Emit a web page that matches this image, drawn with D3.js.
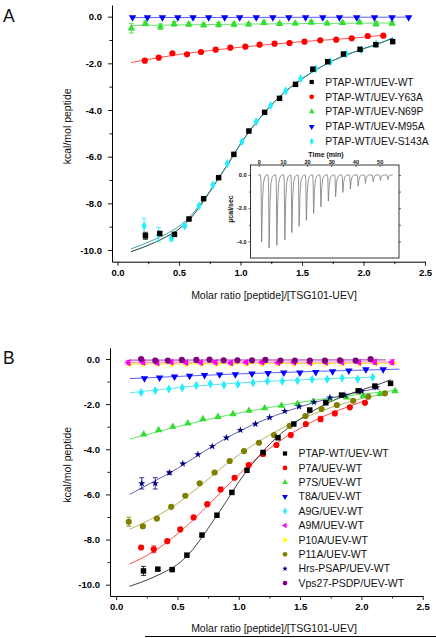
<!DOCTYPE html>
<html><head><meta charset="utf-8">
<script src="https://cdn.jsdelivr.net/npm/d3@7"></script>
<style>html,body{margin:0;padding:0;background:#fff}svg{display:block}text{font-family:"Liberation Sans",Arial,Helvetica,sans-serif}</style>
</head><body><svg id="c" width="436" height="638"></svg>
<script>
// ---------------- DATA ----------------
const xMajorTicks = [0, 0.5, 1.0, 1.5, 2.0, 2.5];
const xMinorTicks = [0.25, 0.75, 1.25, 1.75, 2.25];
const yMajorTicks = [0, -2, -4, -6, -8, -10];
const yMinorTicks = [-1, -3, -5, -7, -9];
const xTitle = "Molar ratio [peptide]/[TSG101-UEV]";
const yTitle = "kcal/mol peptide";

// Panel A
const A_names = ["PTAP-WT/UEV-WT", "PTAP-WT/UEV-Y63A", "PTAP-WT/UEV-N69P", "PTAP-WT/UEV-M95A", "PTAP-WT/UEV-S143A"];
const A_WT = [[0.227,-9.39],[0.343,-9.29],[0.463,-9.33],[0.581,-8.67],[0.70,-7.80],[0.822,-6.90],[0.946,-5.90],[1.068,-4.90],[1.196,-4.10],[1.317,-3.50],[1.447,-2.90],[1.588,-2.25],[1.709,-1.93],[1.837,-1.60],[1.972,-1.40],[2.10,-1.20],[2.237,-1.07]];
const A_WT_err = [0.15,0.08,0.06,0,0,0,0,0,0,0,0,0,0,0,0,0,0];
const A_Y63A = [[0.222,-1.886],[0.335,-1.757],[0.446,-1.569],[0.565,-1.611],[0.679,-1.513],[0.798,-1.414],[0.917,-1.329],[1.039,-1.286],[1.155,-1.20],[1.277,-1.157],[1.398,-1.127],[1.52,-1.071],[1.648,-1.011],[1.778,-0.986],[1.904,-0.926],[2.034,-0.827],[2.161,-0.814]];
const A_N69P = [[0.113,-0.50],[0.227,-0.29],[0.349,-0.43],[0.46,-0.31],[0.579,-0.33],[0.70,-0.36],[0.822,-0.34],[0.947,-0.33],[1.066,-0.33],[1.19,-0.26],[1.317,-0.31],[1.445,-0.29],[1.575,-0.24],[1.704,-0.29],[1.83,-0.26],[1.967,-0.24],[2.102,-0.31],[2.232,-0.29]];
const A_N69P_err = [0.2,0.1,0.12,0.1,0.08,0.08,0.1,0.1,0.06,0.08,0.06,0.06,0.08,0.06,0.06,0.06,0.1,0.08];
const A_M95A = [[0.122,-0.03],[0.243,-0.03],[0.365,-0.03],[0.49,-0.03],[0.614,-0.03],[0.741,-0.03],[0.871,-0.03],[0.993,-0.03],[1.128,-0.03],[1.263,-0.03],[1.393,-0.03],[1.529,-0.03],[1.669,-0.03],[1.804,-0.03],[1.945,-0.03],[2.089,-0.03],[2.232,-0.03],[2.367,-0.03]];
const A_S143A = [[0.216,-8.97],[0.335,-9.33],[0.438,-9.50],[0.546,-8.97],[0.662,-8.11],[0.776,-7.21],[0.893,-6.29],[1.011,-5.36],[1.128,-4.50],[1.245,-3.81],[1.367,-3.18],[1.489,-2.66],[1.61,-2.24],[1.731,-1.93],[1.859,-1.60],[1.981,-1.43],[2.102,-1.18]];
const A_S143A_err = [0.32,0.3,0.1,0.06,0,0,0,0,0,0,0,0,0,0,0,0,0];
// fitted curves
const A_WT_fit = [[0.11,-10.07],[0.2,-9.9],[0.3,-9.68],[0.4,-9.42],[0.5,-9.1],[0.6,-8.6],[0.7,-7.9],[0.8,-7.1],[0.9,-6.3],[1.0,-5.45],[1.1,-4.72],[1.2,-4.08],[1.3,-3.52],[1.4,-3.06],[1.5,-2.66],[1.6,-2.32],[1.7,-2.02],[1.8,-1.77],[1.9,-1.56],[2.0,-1.37],[2.1,-1.2],[2.24,-0.92]];
const A_S143A_fit = [[0.11,-9.95],[0.2,-9.77],[0.3,-9.55],[0.4,-9.3],[0.5,-8.98],[0.6,-8.5],[0.7,-7.85],[0.8,-7.08],[0.9,-6.28],[1.0,-5.45],[1.1,-4.72],[1.2,-4.08],[1.3,-3.52],[1.4,-3.06],[1.5,-2.66],[1.6,-2.32],[1.7,-2.02],[1.8,-1.77],[1.9,-1.56],[2.0,-1.37],[2.1,-1.2],[2.24,-0.9]];
const A_Y63A_fit = [[0.11,-1.96],[0.5,-1.62],[1.0,-1.31],[1.5,-1.07],[2.0,-0.88],[2.18,-0.78]];
const A_N69P_fit = [[0.11,-0.38],[1.0,-0.32],[2.24,-0.27]];
const A_M95A_fit = [[0.11,-0.04],[2.38,-0.02]];

// inset (raw ITC trace): injection times (min) and peak heights (µcal/sec)
const insetTimeTicks = [0, 10, 20, 30, 40, 50];
const insetYTicks = [0, -2, -4];
const insetPeakTimes = [1.0, 4.1, 7.3, 10.6, 13.5, 16.5, 19.5, 22.5, 25.5, 28.6, 31.6, 34.6, 37.7, 40.9, 43.9, 47.1, 50.1, 53.2];
const insetPeakHeights = [-4.04, -4.40, -4.24, -3.90, -3.47, -3.09, -2.73, -2.32, -1.92, -1.58, -1.31, -1.05, -0.85, -0.67, -0.51, -0.40, -0.33, -0.28];
const insetTimeSpan = [-0.4, 55.4];

// Panel B
const B_names = ["PTAP-WT/UEV-WT","P7A/UEV-WT","P7S/UEV-WT","T8A/UEV-WT","A9G/UEV-WT","A9M/UEV-WT","P10A/UEV-WT","P11A/UEV-WT","Hrs-PSAP/UEV-WT","Vps27-PSDP/UEV-WT"];
const B_WT = [[0.223,-9.39],[0.34,-9.31],[0.457,-9.33],[0.577,-8.69],[0.70,-7.80],[0.822,-6.92],[0.944,-5.91],[1.067,-4.93],[1.198,-4.14],[1.32,-3.49],[1.449,-2.88],[1.579,-2.26],[1.71,-1.94],[1.838,-1.60],[1.974,-1.41],[2.11,-1.20],[2.238,-1.08]];
const B_WT_err = [0.2,0.06,0.06,0,0,0,0,0,0,0,0,0,0,0,0,0,0];
const B_P7A = [[0.204,-8.35],[0.307,-8.43],[0.417,-8.07],[0.523,-7.55],[0.632,-7.02],[0.743,-6.43],[0.852,-5.78],[0.966,-5.26],[1.081,-4.70],[1.198,-4.21],[1.307,-3.81],[1.424,-3.37],[1.547,-2.88],[1.667,-2.66],[1.784,-2.41],[1.906,-2.14],[2.029,-1.94]];
const B_P7A_err = [0.06,0.15,0.06,0,0,0,0,0,0,0.08,0,0,0,0.12,0,0,0];
const B_P7S = [[0.225,-3.34],[0.346,-3.15],[0.462,-3.0],[0.585,-2.85],[0.708,-2.66],[0.83,-2.56],[0.953,-2.44],[1.083,-2.29],[1.212,-2.18],[1.348,-2.07],[1.479,-1.99],[1.606,-1.89],[1.743,-1.77],[1.879,-1.70],[2.015,-1.63],[2.151,-1.55],[2.274,-1.42]];
const B_T8A = [[0.231,-0.86],[0.354,-0.83],[0.476,-0.78],[0.599,-0.75],[0.721,-0.72],[0.844,-0.69],[0.972,-0.68],[1.108,-0.65],[1.239,-0.63],[1.367,-0.61],[1.498,-0.61],[1.628,-0.58],[1.765,-0.55],[1.898,-0.52],[2.037,-0.46],[2.178,-0.46]];
const B_A9G = [[0.204,-1.48],[0.319,-1.40],[0.43,-1.33],[0.539,-1.27],[0.654,-1.17],[0.768,-1.10],[0.879,-1.15],[0.993,-1.12],[1.116,-1.05],[1.234,-0.98],[1.356,-0.99],[1.479,-0.96],[1.598,-0.90],[1.721,-0.90],[1.843,-0.84],[1.969,-0.89],[2.092,-0.81]];
const B_A9M = [[0.10,-0.16],[0.22,-0.15],[0.335,-0.17],[0.45,-0.14],[0.57,-0.16],[0.69,-0.16],[0.81,-0.15],[0.935,-0.17],[1.06,-0.15],[1.19,-0.14],[1.32,-0.16],[1.45,-0.15],[1.58,-0.16],[1.71,-0.15],[1.84,-0.14],[1.98,-0.15],[2.11,-0.14],[2.25,-0.14]];
const B_A9M_err = [0.1,0.08,0.08,0.06,0.06,0.06,0.08,0.08,0.06,0.08,0.06,0.06,0.06,0.06,0.06,0.06,0.1,0.1];
const B_P10A = [[0.109,-0.22],[0.226,-0.21],[0.34,-0.22],[0.458,-0.22],[0.577,-0.22],[0.70,-0.22],[0.822,-0.22],[0.944,-0.22],[1.067,-0.21],[1.198,-0.21],[1.326,-0.20],[1.456,-0.20],[1.593,-0.20],[1.716,-0.20],[1.851,-0.20],[1.988,-0.20],[2.124,-0.19],[2.26,-0.17]];
const B_P11A = [[0.103,-7.21],[0.218,-7.41],[0.332,-7.07],[0.449,-6.55],[0.564,-6.06],[0.681,-5.51],[0.803,-5.03],[0.926,-4.52],[1.043,-4.08],[1.165,-3.71],[1.288,-3.37],[1.416,-2.96],[1.544,-2.53],[1.675,-2.22],[1.80,-2.04],[1.933,-1.85],[2.056,-1.67],[2.192,-1.52]];
const B_P11A_err = [0.2,0.08,0.06,0,0,0,0,0,0,0,0,0,0,0,0,0,0,0];
const B_Hrs = [[0.209,-5.51],[0.319,-5.51],[0.435,-5.04],[0.544,-4.64],[0.667,-4.23],[0.784,-3.87],[0.899,-3.49],[1.013,-3.15],[1.136,-2.88],[1.252,-2.59],[1.375,-2.31],[1.492,-2.11],[1.614,-1.91],[1.743,-1.71],[1.865,-1.60],[2.0,-1.43],[2.124,-1.26]];
const B_Hrs_err = [0.25,0.25,0.06,0,0,0,0,0,0,0,0,0,0,0,0,0,0];
const B_Vps27 = [[0.204,0.0],[0.319,-0.07],[0.422,-0.07],[0.536,-0.04],[0.654,-0.04],[0.762,-0.03],[0.877,-0.06],[0.989,-0.06],[1.108,-0.06],[1.217,-0.04],[1.34,-0.07],[1.457,-0.07],[1.58,-0.07],[1.702,-0.07],[1.825,-0.06],[1.953,-0.07],[2.075,0.0]];
const B_WT_fit = A_WT_fit;
const B_P7A_fit = [[0.11,-9.08],[0.3,-8.55],[0.5,-7.75],[0.7,-6.75],[0.9,-5.65],[1.1,-4.62],[1.3,-3.77],[1.5,-3.07],[1.7,-2.52],[1.9,-2.1],[2.05,-1.8]];
const B_P7S_fit = [[0.11,-3.55],[0.5,-3.0],[0.9,-2.5],[1.3,-2.1],[1.7,-1.76],[2.1,-1.5],[2.3,-1.38]];
const B_T8A_fit = [[0.11,-0.87],[1.0,-0.66],[2.31,-0.45]];
const B_A9G_fit = [[0.11,-1.5],[0.6,-1.22],[1.1,-1.03],[1.6,-0.9],[2.1,-0.8]];
const B_A9M_fit = [[0.1,-0.15],[2.28,-0.13]];
const B_P10A_fit = [[0.1,-0.22],[2.28,-0.19]];
const B_P11A_fit = [[0.11,-7.55],[0.3,-7.05],[0.5,-6.4],[0.7,-5.55],[0.9,-4.65],[1.1,-3.87],[1.3,-3.22],[1.5,-2.68],[1.7,-2.25],[1.9,-1.9],[2.15,-1.58]];
const B_Hrs_fit = [[0.11,-6.0],[0.3,-5.45],[0.5,-4.85],[0.7,-4.15],[0.9,-3.5],[1.1,-2.95],[1.3,-2.5],[1.5,-2.12],[1.7,-1.8],[1.9,-1.55],[2.13,-1.3]];
const B_Vps27_fit = [[0.11,-0.05],[2.2,-0.04]];

// ---------------- DRAW ----------------
const svg = d3.select("#c");
svg.append("rect").attr("width",436).attr("height",638).attr("fill","#fff");

const sym = {
  square: {t: d3.symbolSquare, r: 0},
  circle: {t: d3.symbolCircle, r: 0},
  up: {t: d3.symbolTriangle, r: 0},
  down: {t: d3.symbolTriangle, r: 180},
  diamond: {t: d3.symbolDiamond, r: 0},
  left: {t: d3.symbolTriangle, r: -90},
  right: {t: d3.symbolTriangle, r: 90},
  star: {t: d3.symbolStar, r: 0}
};
const symSize = {square: 30, circle: 30, up: 24, down: 24, diamond: 24, left: 22, right: 22, star: 17};

function axes(g, x, y) {
  const [x0, x1] = x.range(), [y0, y1] = y.range();
  const gxMin = g.append("g").attr("transform", `translate(0,${y0})`)
    .call(d3.axisBottom(x).tickValues(xMinorTicks).tickSize(2.5).tickSizeOuter(0).tickFormat(""));
  gxMin.select(".domain").remove();
  const gx = g.append("g").attr("transform", `translate(0,${y0})`)
    .call(d3.axisBottom(x).tickValues(xMajorTicks).tickSize(4).tickSizeOuter(0).tickPadding(3.5).tickFormat(d => d.toFixed(1)));
  const gyMin = g.append("g").attr("transform", `translate(${x0},0)`)
    .call(d3.axisLeft(y).tickValues(yMinorTicks).tickSize(2.5).tickSizeOuter(0).tickFormat(""));
  gyMin.select(".domain").remove();
  const gy = g.append("g").attr("transform", `translate(${x0},0)`)
    .call(d3.axisLeft(y).tickValues(yMajorTicks).tickSize(4).tickSizeOuter(0).tickPadding(6).tickFormat(d => d.toFixed(1)));
  [gx, gy].forEach(a => a.selectAll("text").attr("font-size", 9.5).attr("font-weight", "bold").attr("fill", "#000")
    .attr("font-family", '"Liberation Sans",Arial,sans-serif'));
  g.selectAll(".domain").attr("stroke", "#000").attr("stroke-width", 1);
  g.selectAll(".tick line").attr("stroke", "#000").attr("stroke-width", 0.9);
}

function drawSeries(g, x, y, pts, errs, shape, color, stroke) {
  if (errs) {
    const eg = g.append("g").attr("stroke", color).attr("stroke-width", 0.8);
    pts.forEach((p, i) => {
      const e = errs[i];
      if (!e) return;
      const cx = x(p[0]);
      eg.append("line").attr("x1", cx).attr("x2", cx).attr("y1", y(p[1] + e)).attr("y2", y(p[1] - e));
      eg.append("line").attr("x1", cx - 2.5).attr("x2", cx + 2.5).attr("y1", y(p[1] + e)).attr("y2", y(p[1] + e));
      eg.append("line").attr("x1", cx - 2.5).attr("x2", cx + 2.5).attr("y1", y(p[1] - e)).attr("y2", y(p[1] - e));
    });
  }
  const s = sym[shape];
  g.append("g").selectAll("path").data(pts).join("path")
    .attr("d", d3.symbol().type(s.t).size(symSize[shape]))
    .attr("transform", d => `translate(${x(d[0])},${y(d[1])}) rotate(${s.r})`)
    .attr("fill", color).attr("stroke", stroke || "none").attr("stroke-width", 0.4);
}

function drawFit(g, x, y, pts, color, w) {
  g.append("path").datum(pts)
    .attr("d", d3.line().x(d => x(d[0])).y(d => y(d[1])).curve(d3.curveMonotoneX))
    .attr("fill", "none").attr("stroke", color).attr("stroke-width", w || 0.8);
}

function legend(g, x0, y0, dy, names, shapes, colors, fs) {
  names.forEach((n, i) => {
    const s = sym[shapes[i]];
    g.append("path").attr("d", d3.symbol().type(s.t).size(symSize[shapes[i]] * 0.6))
      .attr("transform", `translate(${x0},${y0 + i * dy}) rotate(${s.r})`).attr("fill", colors[i]);
    g.append("text").attr("x", x0 + 13.5).attr("y", y0 + i * dy).attr("dy", "0.36em")
      .attr("font-size", fs).attr("fill", "#111").text(n);
  });
}

function titles(g, x, y, titleY) {
  const [x0, x1] = x.range(), [y0, y1] = y.range();
  g.append("text").attr("x", 274).attr("y", titleY).attr("dy", "0.35em").attr("text-anchor", "middle")
    .attr("font-size", 10.5).attr("fill", "#111").text(xTitle);
  g.append("text").attr("transform", `translate(67,${(y0 + y1) / 2 - 7}) rotate(-90)`).attr("dy", "0.35em")
    .attr("text-anchor", "middle").attr("font-size", 10.5).attr("fill", "#111").text(yTitle);
}

// ----- Panel A -----
const gA = svg.append("g");
const xA = d3.scaleLinear().domain([-0.045, 2.5]).range([112, 425]);
const yA = d3.scaleLinear().domain([-10.5, 0.5]).range([261.7, 5]);
gA.append("text").attr("x", 3).attr("y", 22).attr("font-size", 17.5).attr("fill", "#111").text("A");

drawFit(gA, xA, yA, A_M95A_fit, "#3333ff");
drawFit(gA, xA, yA, A_N69P_fit, "#44dd44");
drawFit(gA, xA, yA, A_Y63A_fit, "#ff2020");
drawFit(gA, xA, yA, A_WT_fit, "#0a2a2a", 0.9);
drawFit(gA, xA, yA, A_S143A_fit, "#2a9a9a", 0.9);
drawSeries(gA, xA, yA, A_N69P, A_N69P_err, "up", "#33dd33");
drawSeries(gA, xA, yA, A_M95A, null, "down", "#0000ff");
drawSeries(gA, xA, yA, A_Y63A, null, "circle", "#ff0000");
drawSeries(gA, xA, yA, A_S143A, A_S143A_err, "diamond", "#22eeff");
drawSeries(gA, xA, yA, A_WT, A_WT_err, "square", "#000000");
axes(gA, xA, yA);
titles(gA, xA, yA, 295.5);
legend(gA, 311.7, 82, 14.85, A_names, ["square","circle","up","down","diamond"],
  ["#000","#ff0000","#33dd33","#0000ff","#22eeff"], 10.3);

// inset
const gI = svg.append("g");
const xI = d3.scaleLinear().domain([-3.4, 58.0]).range([250.5, 399]);
const yI = d3.scaleLinear().domain([-5.0, 0.6]).range([258, 165]);
gI.append("rect").attr("x", 250.5).attr("y", 165).attr("width", 399 - 250.5).attr("height", 93)
  .attr("fill", "#fff").attr("stroke", "#222").attr("stroke-width", 0.9);
const trace = [[insetTimeSpan[0], 0]];
insetPeakTimes.forEach((t, i) => {
  const h = insetPeakHeights[i];
  trace.push([t - 0.25, 0], [t - 0.05, h * 0.1], [t + 0.2, h], [t + 0.55, h * 0.4], [t + 0.95, h * 0.12], [t + 1.5, h * 0.03], [t + 2.2, 0]);
});
trace.push([insetTimeSpan[1], 0]);
gI.append("path").datum(trace).attr("d", d3.line().x(d => xI(d[0])).y(d => yI(d[1])))
  .attr("fill", "none").attr("stroke", "#7a7a7a").attr("stroke-width", 0.8).attr("stroke-linejoin", "round");
const gIt = gI.append("g").attr("transform", "translate(0,165)")
  .call(d3.axisTop(xI).tickValues(insetTimeTicks).tickSize(-2).tickSizeOuter(0).tickPadding(1.2).tickFormat(d3.format("d")));
gIt.select(".domain").remove();
const gIl = gI.append("g").attr("transform", "translate(250.5,0)")
  .call(d3.axisLeft(yI).tickValues(insetYTicks).tickSize(2).tickSizeOuter(0).tickPadding(2).tickFormat(d => d.toFixed(1)));
gIl.select(".domain").remove();
const gImin = gI.append("g").attr("transform", "translate(250.5,0)")
  .call(d3.axisLeft(yI).tickValues([-1, -3]).tickSize(1.5).tickSizeOuter(0).tickFormat(""));
gImin.select(".domain").remove();
const gIr = gI.append("g").attr("transform", "translate(399,0)")
  .call(d3.axisRight(yI).tickValues([0, -1, -2, -3, -4]).tickSize(2).tickSizeOuter(0).tickFormat(""));
gIr.select(".domain").remove();
gI.selectAll(".tick line").attr("stroke", "#222").attr("stroke-width", 0.7);
gI.selectAll(".tick text").attr("font-size", 5.6).attr("font-weight", "bold").attr("fill", "#111")
  .attr("font-family", '"Liberation Sans",Arial,sans-serif');
gI.append("text").attr("x", 326).attr("y", 154.5).attr("dy", "0.35em").attr("text-anchor", "middle")
  .attr("font-size", 7).attr("font-weight", "bold").attr("fill", "#111").text("Time (min)");
gI.append("text").attr("transform", "translate(231,209) rotate(-90)").attr("dy", "0.35em").attr("text-anchor", "middle")
  .attr("font-size", 7).attr("font-weight", "bold").attr("fill", "#111").text("µcal/sec");

// ----- Panel B -----
const gB = svg.append("g");
const xB = d3.scaleLinear().domain([-0.05, 2.5]).range([110, 422.7]);
const yB = d3.scaleLinear().domain([-10.5, 0.5]).range([596, 347.7]);
gB.append("text").attr("x", 3).attr("y", 363.5).attr("font-size", 17.5).attr("fill", "#111").text("B");

drawFit(gB, xB, yB, B_Vps27_fit, "#800080");
drawFit(gB, xB, yB, B_P10A_fit, "#e8d800");
drawFit(gB, xB, yB, B_A9M_fit, "#ff55cc");
drawFit(gB, xB, yB, B_T8A_fit, "#3333ff");
drawFit(gB, xB, yB, B_A9G_fit, "#33dddd");
drawFit(gB, xB, yB, B_P7S_fit, "#33dd33");
drawFit(gB, xB, yB, B_Hrs_fit, "#3a3a9a");
drawFit(gB, xB, yB, B_P11A_fit, "#a0a040");
drawFit(gB, xB, yB, B_P7A_fit, "#ff2020");
drawFit(gB, xB, yB, B_WT_fit, "#111111");

drawSeries(gB, xB, yB, B_P10A, null, "right", "#ffff00");
drawSeries(gB, xB, yB, B_A9M, B_A9M_err, "left", "#ff00ff");
drawSeries(gB, xB, yB, B_Vps27, null, "circle", "#800080");
drawSeries(gB, xB, yB, B_T8A, null, "down", "#0000ff");
drawSeries(gB, xB, yB, B_A9G, null, "diamond", "#22eeff");
drawSeries(gB, xB, yB, B_P7S, null, "up", "#33dd33");
drawSeries(gB, xB, yB, B_Hrs, B_Hrs_err, "star", "#000080");
drawSeries(gB, xB, yB, B_P11A, B_P11A_err, "circle", "#808000");
drawSeries(gB, xB, yB, B_P7A, B_P7A_err, "circle", "#ff0000");
drawSeries(gB, xB, yB, B_WT, B_WT_err, "square", "#000000");
axes(gB, xB, yB);
titles(gB, xB, yB, 628.3);
legend(gB, 285, 453.5, 14.4, B_names,
  ["square","circle","up","down","diamond","left","right","circle","star","circle"],
  ["#000","#ff0000","#33dd33","#0000ff","#22eeff","#ff00ff","#ffff00","#808000","#000080","#800080"], 10.5);
// rule under panel B title
svg.append("line").attr("x1", 145).attr("x2", 436).attr("y1", 636.5).attr("y2", 636.5)
  .attr("stroke", "#000").attr("stroke-width", 1);
</script></body></html>
